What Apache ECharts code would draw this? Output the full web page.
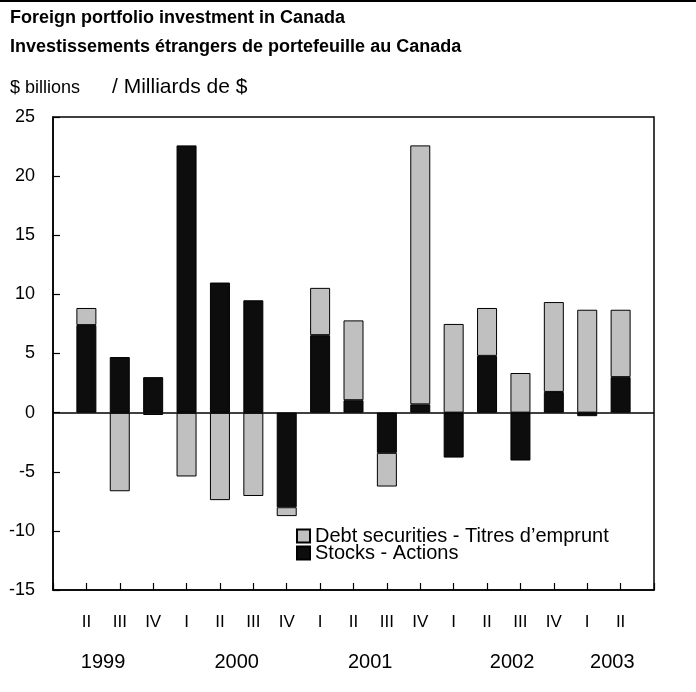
<!DOCTYPE html>
<html>
<head>
<meta charset="utf-8">
<script src="https://cdn.jsdelivr.net/npm/echarts@6/dist/echarts.min.js"></script>
<style>
  html, body { margin: 0; padding: 0; background: #fff; }
  #main { width: 696px; height: 692px; }
</style>
</head>
<body>
<div id="main"></div>
<script>
  // quarters, 1999 II to 2003 II
  var quarters = ['II', 'III', 'IV', 'I', 'II', 'III', 'IV', 'I', 'II', 'III', 'IV', 'I', 'II', 'III', 'IV', 'I', 'II'];
  // year labels and the quarter slot they sit under (1 = first bar)
  var years = ['1999', '2000', '2001', '2002', '2003'];
  var yearPos = [1.5, 5.5, 9.5, 13.75, 16.75];

  // $ billions
  var stocks = [7.4, 4.7, 3.0, 22.6, 11.0, 9.5, -8.0, 6.55, 1.05, -3.4, 0.7, -3.8, 4.8, -4.05, 1.75, -0.3, 3.0];
  var debt = [1.45, -6.65, -0.2, -5.4, -7.4, -7.05, -0.75, 4.0, 6.75, -2.85, 21.9, 7.5, 4.05, 3.35, 7.6, 8.7, 5.7];

  var yTicks = { min: -15, max: 25, step: 5 };

  var font = '"Liberation Sans", Arial, sans-serif';

  var chart = echarts.init(document.getElementById('main'));

  // an empty slot at each end, so the bars sit one full step in from the frame
  var cats = [''].concat(quarters, ['']);
  var pad = function (arr) { return [null].concat(arr, [null]); };

  // finer axis for the year row, quarter steps of 0.25
  var yearCats = [];
  for (var k = 0; k <= (quarters.length + 1) * 4; k++) {
    var idx = yearPos.indexOf(k / 4);
    yearCats.push(idx >= 0 ? years[idx] : '');
  }

  var option = {
    animation: false,
    backgroundColor: '#fff',
    textStyle: { fontFamily: font, color: '#000' },
    graphic: [
      { type: 'rect', left: 0, top: 0, shape: { width: 696, height: 2 }, style: { fill: '#000' } },
      { type: 'text', left: 10, top: 9, style: { text: 'Foreign portfolio investment in Canada', font: 'bold 18px ' + font, fill: '#000' } },
      { type: 'text', left: 10, top: 38, style: { text: 'Investissements étrangers de portefeuille au Canada', font: 'bold 18px ' + font, fill: '#000' } },
      { type: 'text', left: 10, top: 79, style: { text: '$ billions', font: '18px ' + font, fill: '#000' } },
      { type: 'text', left: 112, top: 77, style: { text: '/ Milliards de $', font: '21px ' + font, fill: '#000' } }
    ],
    grid: {
      left: 53,
      right: 42,
      top: 117,
      bottom: 102,
      show: true,
      borderColor: '#000',
      borderWidth: 1.5,
      backgroundColor: 'transparent'
    },
    legend: {
      orient: 'vertical',
      left: 296,
      top: 526,
      padding: 0,
      icon: 'rect',
      itemWidth: 13,
      itemHeight: 13,
      itemGap: -3,
      textStyle: { fontFamily: font, fontSize: 20, color: '#000' },
      data: ['Debt securities - Titres d\u2019emprunt', 'Stocks - Actions']
    },
    xAxis: [
      {
        type: 'category',
        data: cats,
        boundaryGap: false,
        axisLine: { onZero: false, lineStyle: { color: '#000', width: 1.5 } },
        axisTick: { inside: true, length: 7, interval: 0, lineStyle: { color: '#000', width: 1.2 } },
        splitLine: { show: false },
        axisLabel: { interval: 0, margin: 24, fontSize: 17, color: '#000', fontFamily: font }
      },
      {
        type: 'category',
        data: yearCats,
        boundaryGap: false,
        position: 'bottom',
        axisLine: { show: false, onZero: false },
        axisTick: { show: false },
        splitLine: { show: false },
        axisLabel: { interval: 0, margin: 62, fontSize: 20, color: '#000', fontFamily: font }
      }
    ],
    yAxis: {
      type: 'value',
      min: yTicks.min,
      max: yTicks.max,
      interval: yTicks.step,
      axisLine: { show: true, lineStyle: { color: '#000', width: 1.5 } },
      axisTick: { show: true, inside: true, length: 7, lineStyle: { color: '#000', width: 1.2 } },
      splitLine: { show: false },
      axisLabel: { margin: 18, fontSize: 18, color: '#000', fontFamily: font }
    },
    series: [
      {
        name: 'Stocks - Actions',
        type: 'bar',
        stack: 'flows',
        barWidth: 20,
        data: pad(stocks),
        itemStyle: { color: '#0d0d0d', borderColor: '#000', borderWidth: 1 },
        markLine: {
          silent: true,
          symbol: 'none',
          label: { show: false },
          lineStyle: { color: '#000', width: 1.5, type: 'solid' },
          data: [{ yAxis: 0 }]
        }
      },
      {
        name: 'Debt securities - Titres d\u2019emprunt',
        type: 'bar',
        stack: 'flows',
        barWidth: 20,
        data: pad(debt),
        itemStyle: { color: '#c0c0c0', borderColor: '#000', borderWidth: 1 }
      }
    ]
  };

  chart.setOption(option);
</script>
</body>
</html>
